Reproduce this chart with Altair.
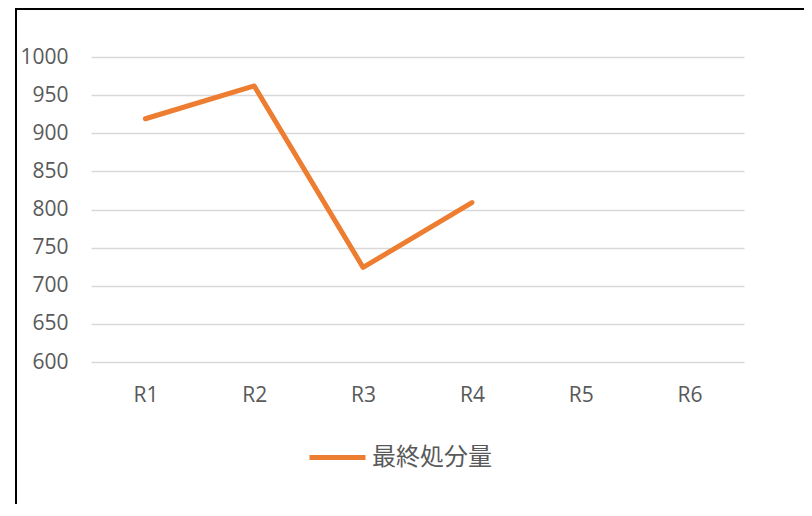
import altair as alt
import pandas as pd

categories = ["R1", "R2", "R3", "R4", "R5", "R6"]
values = [919, 962, 724, 809, None, None]
series_name = "最終処分量"
y_ticks = [600, 650, 700, 750, 800, 850, 900, 950, 1000]

df = pd.DataFrame({"cat": categories, "val": values, "series": [series_name] * len(categories)})

border = alt.Chart(pd.DataFrame({"a": [0]})).mark_rect(
    fill="transparent", stroke="#000000", strokeWidth=2
).encode(
    x=alt.value(-75), x2=alt.value(900), y=alt.value(-48), y2=alt.value(700)
)

line = alt.Chart(df).mark_line(
    strokeWidth=5, strokeCap="round", strokeJoin="round"
).encode(
    x=alt.X("cat:N", scale=alt.Scale(type="point", domain=categories, padding=0.5),
            axis=alt.Axis(title=None, labelAngle=0, ticks=False, domain=False, grid=False,
                          labelPadding=22, labelFontSize=21, labelColor="#595959",
                          labelFont="Open Sans")),
    y=alt.Y("val:Q", scale=alt.Scale(domain=[600, 1000], nice=False, zero=False),
            axis=alt.Axis(title=None, values=y_ticks, format="d", ticks=False, domain=False,
                          grid=True, gridColor="#D9D9D9", gridWidth=1.3,
                          labelPadding=23, labelFontSize=21, labelColor="#595959",
                          labelFont="Open Sans")),
    color=alt.Color("series:N", scale=alt.Scale(range=["#ED7D31"]),
                    legend=alt.Legend(title=None, orient="none", legendX=216, legendY=370,
                                      symbolType="stroke", symbolSize=3136,
                                      symbolStrokeWidth=5, labelFontSize=24,
                                      labelColor="#595959", labelOffset=4,
                                      labelFont="Noto Sans CJK JP", padding=0)),
)

chart = alt.layer(border, line).properties(
    width=653, height=305,
    background="white",
    autosize=alt.AutoSizeParams(type="none"),
    padding={"left": 83, "top": 49, "right": 60, "bottom": 142},
).configure_view(stroke=None)

chart.save("out.html", embed_options={"renderer": "svg", "actions": False})
